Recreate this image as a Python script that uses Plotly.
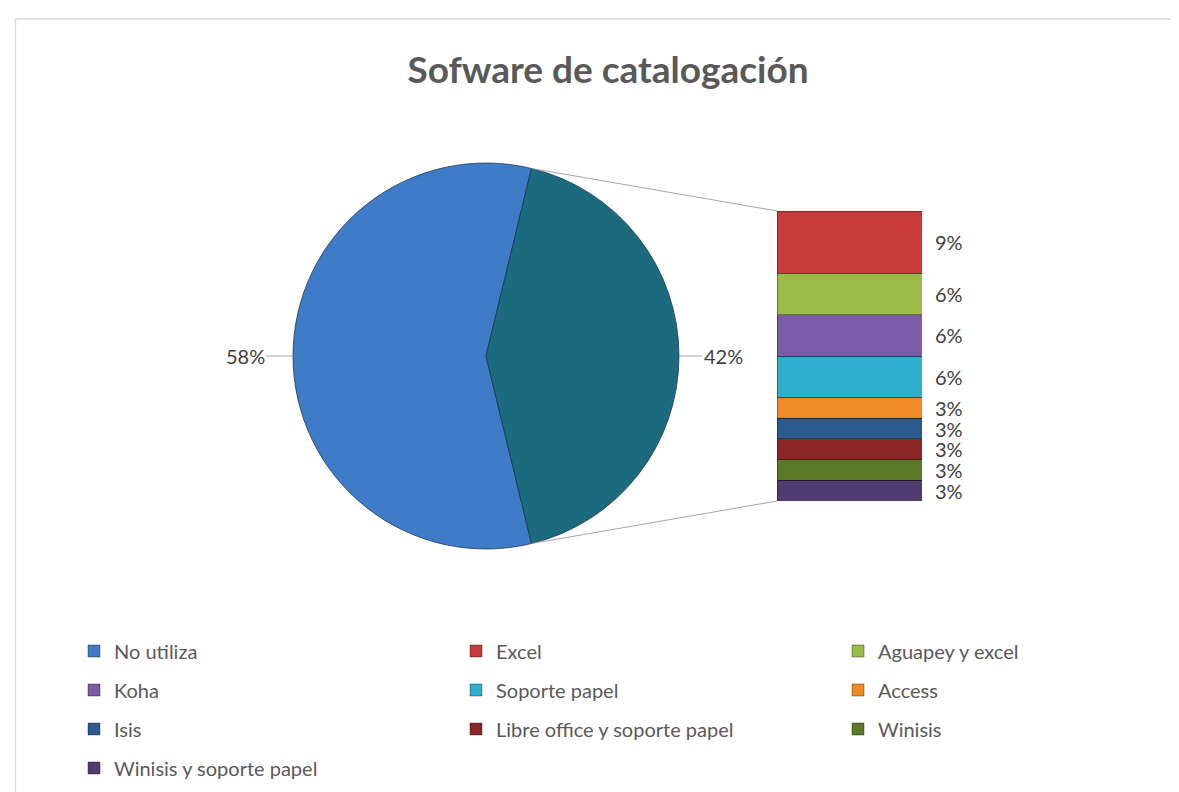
import math
import numpy as np
import plotly.graph_objs as go

W, H = 1179, 792

main_label = 'No utiliza'
main_count = 19
other_labels = ['Excel', 'Aguapey y excel', 'Koha', 'Soporte papel', 'Access', 'Isis',
                'Libre office y soporte papel', 'Winisis', 'Winisis y soporte papel']
other_counts = [3, 2, 2, 2, 1, 1, 1, 1, 1]
other_colors = ['#C93B3B', '#9BBB48', '#7D5BA8', '#2DAFCD', '#F08A26',
                '#2B5B8E', '#8C2525', '#5A7A29', '#503C73']
pie_colors = ['#3F7CC8', '#1C6A7E']

total = main_count + sum(other_counts)
other_total = sum(other_counts)

FONT = 'Lato'
TEXT = '#404040'
LEG = '#595959'


def px(x):
    return x / W


def py(y):
    return 1 - y / H


# pie geometry (pixels)
pie_l, pie_r, pie_t, pie_b = 285, 671, 155, 541
cx, cy = (pie_l + pie_r) / 2, (pie_t + pie_b) / 2
rad = (pie_r - pie_l) / 2
half = 180 * other_total / total
rot = 90 + half

# bar geometry
bar_l, bar_r, bar_t, bar_b = 769, 914, 203, 493

fig = go.Figure()

fig.add_trace(go.Pie(
    labels=[main_label, 'Otros'],
    values=[main_count, other_total],
    sort=False,
    direction='clockwise',
    rotation=rot,
    textinfo='none',
    hoverinfo='label+percent',
    showlegend=False,
    domain=dict(x=[px(pie_l), px(pie_r)], y=[py(pie_b), py(pie_t)]),
    marker=dict(colors=pie_colors, line=dict(color='rgba(25,50,75,0.75)', width=1))
))

legend_order = [main_label] + other_labels
legend_names = ['legend', 'legend2', 'legend3', 'legend4']


def leg_of(name):
    i = legend_order.index(name)
    return legend_names[i // 3], (i % 3 == 2)


# legend-only entry for the main pie slice
lg, last = leg_of(main_label)
fig.add_trace(go.Bar(
    x=[None], y=[None], name=main_label, xaxis='x2', yaxis='y2',
    marker=dict(color=pie_colors[0], line=dict(color='rgba(0,0,0,0.35)', width=1)),
    legend=lg, legendrank=0, hoverinfo='skip'
))

# stacked bar, bottom segment first
for lab, cnt, col in reversed(list(zip(other_labels, other_counts, other_colors))):
    lg, last = leg_of(lab)
    fig.add_trace(go.Bar(
        x=[0], y=[cnt], width=1, name=lab, xaxis='x2', yaxis='y2',
        marker=dict(color=col, line=dict(color='rgba(0,0,0,0.35)', width=1)),
        legend=lg, legendrank=legend_order.index(lab),
        legendwidth=230 if last else None,
        hovertemplate=lab + ': %{y}<extra></extra>'
    ))

annotations = []
bottom_up = list(reversed(other_counts))
tops = np.cumsum(bottom_up)
for cnt, top in zip(bottom_up, tops):
    annotations.append(dict(
        x=0.5, y=top - cnt / 2, xref='x2', yref='y2', xanchor='left', yanchor='middle',
        xshift=12, text=f'{cnt / total:.0%}', showarrow=False, borderpad=0,
        font=dict(family=FONT, size=20, color=TEXT)
    ))

# pie labels with leader lines
annotations.append(dict(
    x=px(pie_l), y=py(cy), xref='paper', yref='paper', text=f'{main_count / total:.0%}',
    showarrow=True, arrowhead=0, arrowwidth=1, arrowcolor='#A6A6A6', ax=-48, ay=0,
    font=dict(family=FONT, size=20, color=TEXT)
))
annotations.append(dict(
    x=px(pie_r), y=py(cy), xref='paper', yref='paper', text=f'{other_total / total:.0%}',
    showarrow=True, arrowhead=0, arrowwidth=1, arrowcolor='#A6A6A6', ax=44, ay=0,
    font=dict(family=FONT, size=20, color=TEXT)
))

# connector lines from the pie split to the bar
a0 = math.radians(90 - half)
a1 = math.radians(90 + half)
p_top = (cx + rad * math.sin(a0), cy - rad * math.cos(a0))
p_bot = (cx + rad * math.sin(a1), cy - rad * math.cos(a1))
shapes = [
    dict(type='line', xref='paper', yref='paper', x0=px(p_top[0]), y0=py(p_top[1]),
         x1=px(bar_l), y1=py(bar_t), line=dict(color='#A6A6A6', width=1)),
    dict(type='line', xref='paper', yref='paper', x0=px(p_bot[0]), y0=py(p_bot[1]),
         x1=px(bar_l), y1=py(bar_b), line=dict(color='#A6A6A6', width=1)),
    # chart area border (top and left visible)
    dict(type='line', xref='paper', yref='paper', x0=px(7), y0=py(11), x1=1, y1=py(11),
         line=dict(color='#D9D9D9', width=1.5)),
    dict(type='line', xref='paper', yref='paper', x0=px(7.5), y0=py(11), x1=px(7.5), y1=0,
         line=dict(color='#D9D9D9', width=1.5)),
]

row_y = [643, 682, 721, 760]
leg_common = dict(orientation='h', xanchor='left', yanchor='middle', x=px(66),
                  entrywidth=337, entrywidthmode='pixels', bgcolor='rgba(0,0,0,0)',
                  font=dict(family=FONT, size=20, color=LEG), traceorder='normal')

fig.update_layout(
    width=W, height=H,
    margin=dict(l=0, r=0, t=0, b=0),
    paper_bgcolor='white', plot_bgcolor='white',
    title=dict(text='Sofware de catalogación', x=px(600), xanchor='center',
               y=py(62), yanchor='middle', yref='container',
               font=dict(family=FONT, size=37, color='#595959', weight='bold')),
    barmode='stack',
    xaxis=dict(visible=False),
    yaxis=dict(visible=False),
    xaxis2=dict(domain=[px(bar_l), px(bar_r)], range=[-0.5, 0.5], visible=False, anchor='y2'),
    yaxis2=dict(domain=[py(bar_b), py(bar_t)], range=[0, other_total], visible=False, anchor='x2'),
    legend=dict(leg_common, y=py(row_y[0])),
    legend2=dict(leg_common, y=py(row_y[1])),
    legend3=dict(leg_common, y=py(row_y[2])),
    legend4=dict(leg_common, y=py(row_y[3])),
    annotations=annotations,
    shapes=shapes,
)

fig.write_html('out.html')
